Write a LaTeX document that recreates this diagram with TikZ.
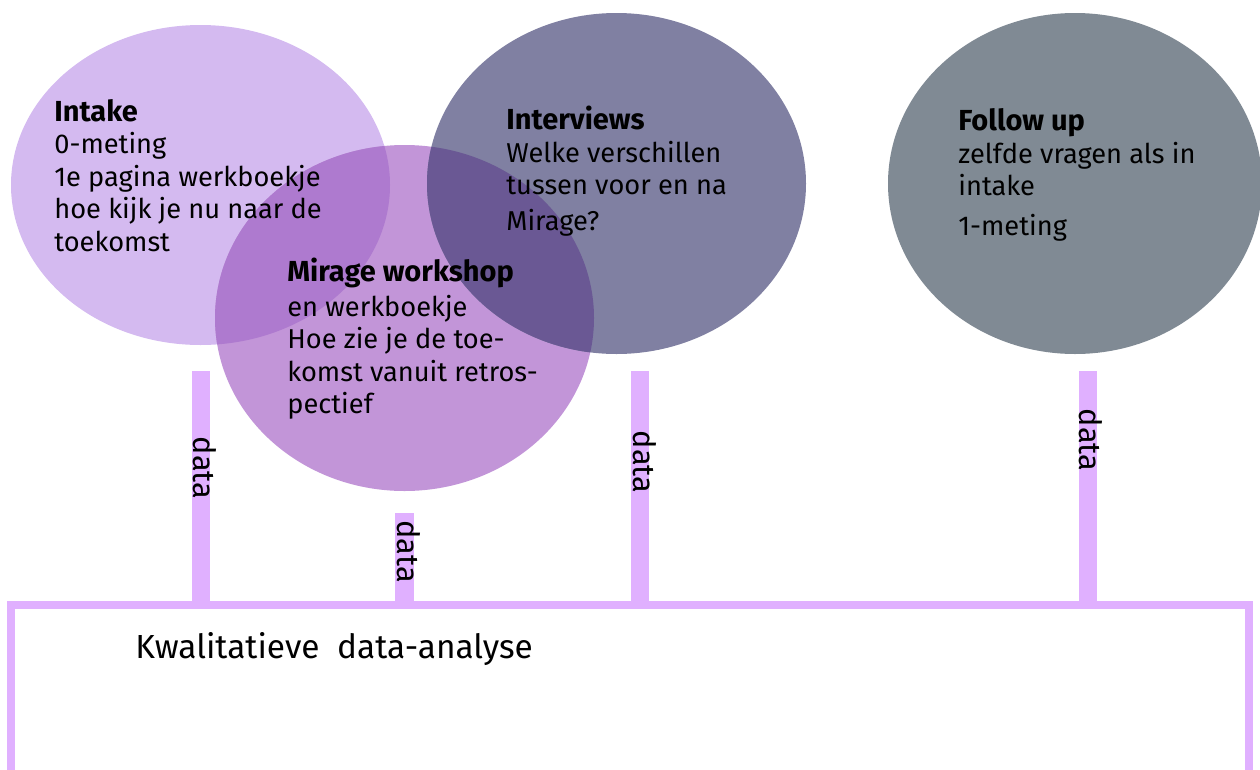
\documentclass[tikz,border=0pt]{standalone}
\usepackage{fontspec}
\setmainfont{Fira Sans}
\usetikzlibrary{positioning}
\definecolor{intakecol}{HTML}{D4BAF0}
\definecolor{miragecol}{HTML}{C295D8}
\definecolor{mixone}{HTML}{AE7ACF}
\definecolor{interviewcol}{HTML}{8080A2}
\definecolor{mixtwo}{HTML}{6A5894}
\definecolor{followcol}{HTML}{808A94}
\definecolor{barcol}{HTML}{E0B0FF}
\newcommand\heading[1]{{\fontsize{16.5}{18.5}\selectfont\bfseries #1}}
\tikzset{txt/.style={anchor=north west,inner sep=0pt,align=left,font=\fontsize{15.5}{18.5}\selectfont}}
\tikzset{datalabel/.style={rotate=-90,anchor=base,inner sep=0pt,font=\fontsize{17.5}{20}\selectfont}}
\tikzset{bar/.style={draw=barcol,line width=0.37cm}}

\begin{document}
\begin{tikzpicture}
  \useasboundingbox (0,0) rectangle (25.2,-15.38);
  \coordinate (intake) at (4.01,-3.70);
  \coordinate (mirage) at (8.09,-6.36);
  \coordinate (interviews) at (12.33,-3.67);
  \coordinate (follow) at (21.50,-3.67);
  % the four circles
  \fill[intakecol] (intake) ellipse [x radius=3.79,y radius=3.20];
  \fill[miragecol] (mirage) ellipse [x radius=3.79,y radius=3.46];
  \begin{scope}
    \clip (intake) ellipse [x radius=3.79,y radius=3.20];
    \fill[mixone] (mirage) ellipse [x radius=3.79,y radius=3.46];
  \end{scope}
  \fill[interviewcol] (interviews) ellipse [x radius=3.79,y radius=3.41];
  \begin{scope}
    \clip (mirage) ellipse [x radius=3.79,y radius=3.46];
    \fill[mixtwo] (interviews) ellipse [x radius=3.79,y radius=3.41];
  \end{scope}
  \fill[followcol] (follow) ellipse [x radius=3.74,y radius=3.41];
  % texts
  \node[txt] (intaketxt) at (1.08,-1.98) {\heading{Intake}\\0-meting\\1e pagina werkboekje\\hoe kijk je nu naar de\\toekomst};
  \node[txt] (miragetxt) at (5.74,-5.16) {\heading{Mirage workshop}\\[1pt]en werkboekje\\Hoe zie je de toe-\\komst vanuit retros-\\pectief};
  \node[txt] (interviewtxt) at (10.12,-2.12) {\heading{Interviews}\\Welke verschillen\\tussen voor en na\\[2pt]Mirage?};
  \node[txt] (followtxt) at (19.16,-2.17) {\heading{Follow up}\\zelfde vragen als in\\intake\\[4pt]1-meting};
  % analysis box
  \node[draw=barcol,line width=0.16cm,minimum width=24.76cm,minimum height=8cm,
        anchor=north west,inner sep=0pt,outer sep=0pt] (analyse) at (0.22,-12.10) {};
  \node[below right=0.54cm and 2.48cm of analyse.north west,inner sep=0pt,
        font=\fontsize{19}{22}\selectfont] (analysetxt) {Kwalitatieve\ \ data-analyse};
  % data bars
  \coordinate (b1) at (4.02,-7.42);
  \coordinate (b2) at (8.09,-10.26);
  \coordinate (b3) at (12.80,-7.42);
  \coordinate (b4) at (21.76,-7.42);
  \foreach \b in {b1,b2,b3,b4}
    \draw[bar] (\b) -- (\b |- analyse.north);
  \node[datalabel] (d1) at (3.86,-9.36) {data};
  \node[datalabel] (d2) at (7.94,-11.03) {data};
  \node[datalabel] (d3) at (12.66,-9.24) {data};
  \node[datalabel] (d4) at (21.58,-8.80) {data};
\end{tikzpicture}
\end{document}
